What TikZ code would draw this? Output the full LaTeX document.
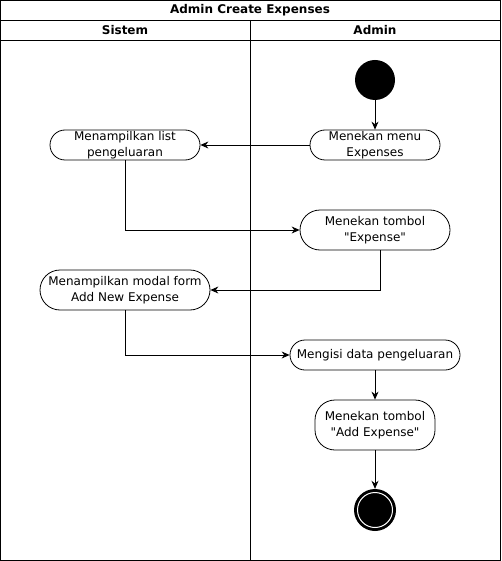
\documentclass[tikz,border=0pt]{standalone}
\usepackage{fontspec}
\setmainfont{DejaVu Sans}[Ligatures=TeXOff]
\usetikzlibrary{arrows.meta,positioning}
\tikzset{
>=Stealth,
akt/.style={draw,thick,rounded corners=15pt,minimum height=30pt,align=center,inner sep=1pt,font=\fontsize{12}{15.5}\selectfont},
akt tinggi/.style={akt,rounded corners=20pt,minimum height=40pt},
judul/.style={font=\fontsize{12}{14}\bfseries\selectfont},
panah/.style={->,thick,>={Stealth[length=8pt,width=7pt]}}}

\begin{document}
\begin{tikzpicture}[x=1pt,y=-1pt]

      \useasboundingbox (0,0) rectangle (501,561);

      % swimlane
      \draw[thick] (0.5,0.5) rectangle (500.5,560.5);
      \draw[thick] (0.5,20) -- (500.5,20) (0.5,40) -- (500.5,40);
      \draw[thick] (250,20) -- (250,560.5);
      \node[judul] at (250,10) {Admin Create Expenses};
      \node[judul] at (125,30) {Sistem};
      \node[judul] at (375,30) {Admin};

      \node (0) [circle,fill=black,minimum size=40pt,inner sep=0pt] at (375,80) {};
      \node (1) [akt,minimum width=130pt] at (375,145) {Menekan menu\\Expenses};
      \node (2) [akt,minimum width=150pt] at (125,145) {Menampilkan list\\pengeluaran};
      \node (3) [akt tinggi,minimum width=150pt] at (375,230) {Menekan tombol\\"Expense"};
      \node (4) [akt tinggi,minimum width=170pt] at (125,290) {Menampilkan modal form\\Add New Expense};
      \node (5) [akt,minimum width=170pt] at (375,355) {Mengisi data pengeluaran};
      \node (6) [akt tinggi,minimum width=120pt,minimum height=50pt] at (375,425) {Menekan tombol\\"Add Expense"};
      \node (7) [circle,fill=black,minimum size=42pt,inner sep=0pt] at (375,510) {};

      \filldraw[draw=white,fill=black,line width=1pt] (7) circle (17.5);

      \draw[panah] (0) -- (1);
      \draw[panah] (1) -- (2);
      \draw[panah] (2) |- (3);
      \draw[panah] ([xshift=5pt]3.south) |- (4);
      \draw[panah] (4) |- (5);
      \draw[panah] (5) -- (6);
      \draw[panah] (6) -- (7);
\end{tikzpicture}
\end{document}
